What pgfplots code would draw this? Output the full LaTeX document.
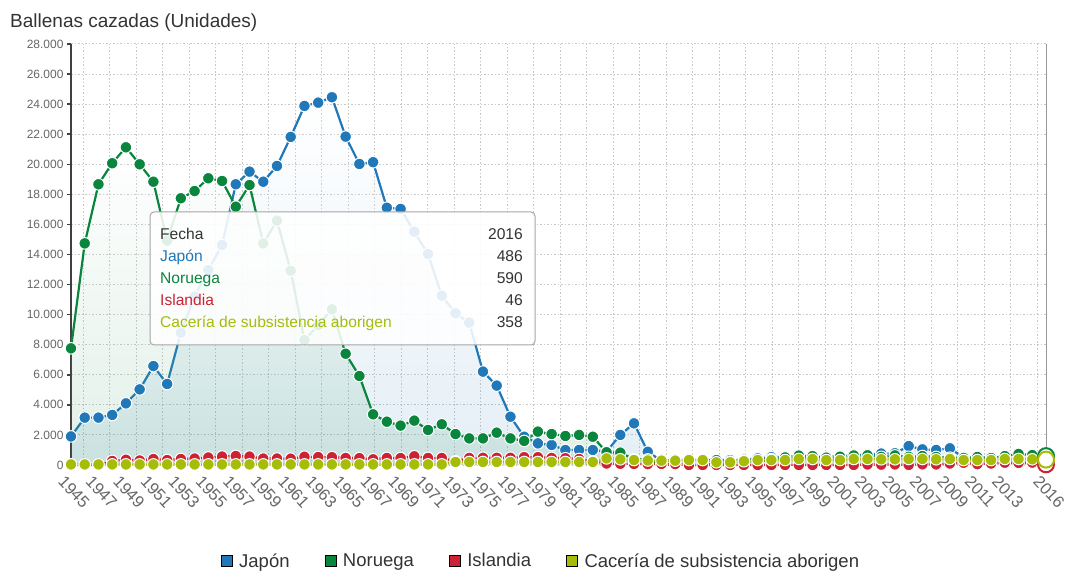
\documentclass[border=0pt]{standalone}
\usepackage{fontspec}
\setmainfont{Liberation Sans}
\usepackage{pgfplots}
\usepackage{pgfplotstable}
\pgfplotsset{compat=1.18}
\definecolor{cjap}{RGB}{33,120,184}
\definecolor{cnor}{RGB}{10,133,62}
\definecolor{cisl}{RGB}{204,34,51}
\definecolor{ccac}{RGB}{166,188,9}
\definecolor{txt}{RGB}{51,51,51}
\definecolor{lab}{RGB}{102,102,102}
\definecolor{gridc}{RGB}{200,200,200}
\pgfplotsset{sqleg/.style={legend image code/.code={\fill[##1] (0pt,-5.5pt) rectangle (11pt,5.5pt);}}}
\pgfplotstableread{
year jap nor isl cac
1945 1900 7760 0 40
1946 3150 14740 0 40
1947 3150 18670 0 40
1948 3330 20070 270 40
1949 4100 21130 350 40
1950 5030 20000 300 40
1951 6580 18840 400 40
1952 5390 14920 330 40
1953 8800 17740 400 40
1954 11200 18220 430 40
1955 12970 19070 500 40
1956 14630 18890 560 40
1957 18670 17180 600 40
1958 19510 18620 560 40
1959 18840 14740 430 40
1960 19890 16250 430 40
1961 21820 12920 420 40
1962 23880 8310 550 40
1963 24100 9300 530 40
1964 24460 10350 520 40
1965 21840 7400 470 40
1966 20020 5920 460 40
1967 20140 3370 380 40
1968 17110 2880 470 40
1969 17030 2620 460 40
1970 15520 2950 580 40
1971 14030 2330 470 40
1972 11260 2710 470 40
1973 10090 2060 250 200
1974 9470 1770 470 200
1975 6210 1770 480 200
1976 5280 2150 480 200
1977 3210 1770 480 200
1978 1880 1600 520 200
1979 1440 2220 520 200
1980 1330 2060 470 200
1981 1000 1930 450 200
1982 1000 2000 400 200
1983 1000 1880 250 200
1984 900 850 100 440
1985 2000 820 80 380
1986 2770 380 70 330
1987 880 375 60 300
1988 280 30 70 290
1989 330 17 60 290
1990 330 5 0 330
1991 330 0 0 330
1992 330 95 0 180
1993 330 226 0 180
1994 350 280 0 250
1995 440 218 0 330
1996 520 388 0 330
1997 540 503 0 330
1998 540 625 0 400
1999 540 591 0 400
2000 530 487 0 330
2001 600 552 0 330
2002 630 634 0 400
2003 700 647 36 400
2004 760 544 25 380
2005 780 639 39 380
2006 1260 545 7 400
2007 1040 597 45 400
2008 1000 536 39 380
2009 1110 484 100 400
2010 500 468 150 330
2011 350 533 60 330
2012 400 464 100 330
2013 380 594 150 400
2014 400 736 140 400
2015 400 660 160 380
2016 486 590 46 358
}\whales
\begin{document}
\begin{tikzpicture}
\useasboundingbox (0,0) rectangle (1082pt,571pt);
\node[anchor=base west, font=\fontsize{19}{19}\selectfont, text=txt, inner sep=0pt] at (10pt,543pt) {Ballenas cazadas (Unidades)};
\begin{axis}[
  at={(71pt,106pt)}, anchor=south west,
  width=975pt, height=421pt, scale only axis,
  xmin=1945, xmax=2016, ymin=0, ymax=28000,
  clip=false,
  axis lines*=left,
  x axis line style={draw=none},
  y axis line style={draw=black!75, line width=2pt},
  xtick={1945,1947,...,2013,2016},
  ytick={0,2000,...,28000},
  minor xtick={1945.896,1947.8258,...,2015.5},
  xminorgrids=true, ymajorgrids=true, xmajorgrids=false,
  grid style={draw=gridc, line width=1pt, dash pattern=on 1.5pt off 2pt},
  minor grid style={draw=gridc, line width=1pt, dash pattern=on 1.5pt off 2pt},
  xtick style={draw=none},
  ytick style={draw=black!75, line width=1.5pt},
  tick align=outside, major tick length=4pt,
  scaled y ticks=false, scaled x ticks=false,
  /pgf/number format/assume math mode=true,
  yticklabel style={font=\fontsize{12}{12}\selectfont, text=lab, /pgf/number format/1000 sep={.}},
  xticklabel style={font=\fontsize{16.5}{16.5}\selectfont, text=lab, rotate=-47, anchor=north west, xshift=-3pt, yshift=-4pt, /pgf/number format/1000 sep={}},
  legend style={at={(0.482,-0.228)}, anchor=center, draw=none, fill=none, legend columns=4,
    font=\fontsize{18.5}{18.5}\selectfont, text=txt,
    /tikz/every odd column/.append style={column sep=5pt},
    /tikz/every even column/.append style={column sep=33pt}},
  legend cell align=left,
]
\addplot[forget plot, draw=gray!80, line width=1pt] coordinates {(2016,0) (2016,28000)};
% Japon
\addplot[forget plot, draw=none, top color=white, bottom color=cjap, fill opacity=0.12] table[x=year,y=jap]{\whales} \closedcycle;
\addplot[forget plot, color=cjap, line width=2.2pt, mark=*, mark size=5.8pt, mark options={fill=cjap, draw=white, line width=1pt}] table[x=year,y=jap]{\whales};
% Noruega
\addplot[forget plot, draw=none, top color=white, bottom color=cnor, fill opacity=0.12] table[x=year,y=nor]{\whales} \closedcycle;
\addplot[forget plot, color=cnor, line width=2.2pt, mark=*, mark size=5.8pt, mark options={fill=cnor, draw=white, line width=1pt}] table[x=year,y=nor]{\whales};
% Islandia
\addplot[forget plot, draw=none, fill=cisl, fill opacity=0.10] table[x=year,y=isl]{\whales} \closedcycle;
\addplot[forget plot, color=cisl, line width=2.2pt, mark=*, mark size=5.8pt, mark options={fill=cisl, draw=white, line width=1pt}] table[x=year,y=isl]{\whales};
% Caceria
\addplot[forget plot, draw=none, fill=ccac, fill opacity=0.10] table[x=year,y=cac]{\whales} \closedcycle;
\addplot[forget plot, color=ccac, line width=2.2pt, mark=*, mark size=5.8pt, mark options={fill=ccac, draw=white, line width=1pt}] table[x=year,y=cac]{\whales};
% hover markers 2016
\addplot[forget plot, only marks, mark=*, mark size=8pt, mark options={fill=white, draw=cjap, line width=2pt}] coordinates {(2016,486)};
\addplot[forget plot, only marks, mark=*, mark size=8pt, mark options={fill=white, draw=cnor, line width=2pt}] coordinates {(2016,590)};
\addplot[forget plot, only marks, mark=*, mark size=8pt, mark options={fill=white, draw=cisl, line width=2pt}] coordinates {(2016,46)};
\addplot[forget plot, only marks, mark=*, mark size=8pt, mark options={fill=white, draw=ccac, line width=2pt}] coordinates {(2016,358)};
\addlegendimage{sqleg, fill=cjap}
\addlegendentry{Japón}
\addlegendimage{sqleg, fill=cnor}
\addlegendentry{Noruega}
\addlegendimage{sqleg, fill=cisl}
\addlegendentry{Islandia}
\addlegendimage{sqleg, fill=ccac}
\addlegendentry{Cacería de subsistencia aborigen}
\end{axis}
% tooltip
\draw[draw=gray!70, line width=1pt, fill=white, fill opacity=0.88, rounded corners=4pt] (150pt,226pt) rectangle (535pt,359pt);
\begin{scope}[every node/.style={font=\fontsize{15.6}{15.6}\selectfont, inner sep=0pt}]
\node[anchor=base west, text=txt] at (160pt,331.5pt) {Fecha};
\node[anchor=base east, text=txt] at (523pt,331.5pt) {2016};
\node[anchor=base west, text=cjap] at (160pt,309.5pt) {Japón};
\node[anchor=base east, text=txt] at (523pt,309.5pt) {486};
\node[anchor=base west, text=cnor] at (160pt,287.5pt) {Noruega};
\node[anchor=base east, text=txt] at (523pt,287.5pt) {590};
\node[anchor=base west, text=cisl] at (160pt,265.5pt) {Islandia};
\node[anchor=base east, text=txt] at (523pt,265.5pt) {46};
\node[anchor=base west, text=ccac] at (160pt,243.5pt) {Cacería de subsistencia aborigen};
\node[anchor=base east, text=txt] at (523pt,243.5pt) {358};
\end{scope}
\end{tikzpicture}
\end{document}
